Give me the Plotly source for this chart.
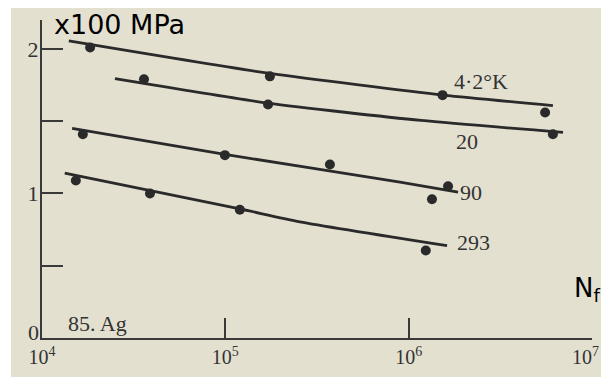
import numpy as np
import plotly.graph_objects as go

# ---- data ----
# cycles to failure N_f and stress (x100 MPa)
n_4k = [1.83e4, 1.75e5, 1.53e6, 5.55e6]
s_4k = [2.01, 1.81, 1.68, 1.56]
n_20k = [3.6e4, 1.71e5, 6.12e6]
s_20k = [1.79, 1.615, 1.41]
n_90k = [1.67e4, 9.95e4, 3.72e5, 1.64e6, 1.34e6]
s_90k = [1.41, 1.265, 1.20, 1.05, 0.96]
n_293k = [1.53e4, 3.88e4, 1.2e5, 1.24e6]
s_293k = [1.09, 1.0, 0.887, 0.605]

# hand-drawn fitted curves
fit_n_4k = [1.40e4, 1.75e5, 1.55e6, 6.12e6]
fit_s_4k = [2.055, 1.83, 1.68, 1.608]
fit_n_20k = [2.5e4, 1.71e5, 1.17e6, 6.95e6]
fit_s_20k = [1.794, 1.625, 1.505, 1.423]
fit_n_90k = [1.46e4, 9.95e4, 8.97e5, 1.86e6]
fit_s_90k = [1.45, 1.27, 1.079, 1.01]
fit_n_293k = [1.33e4, 1.2e5, 2.55e5, 1.62e6]
fit_s_293k = [1.141, 0.893, 0.804, 0.639]

series_labels = ["4·2°K", "20", "90", "293"]

x_tickvals = [1e4, 1e5, 1e6, 1e7]
x_ticktext = ["10<sup>4</sup>", "10<sup>5</sup>", "10<sup>6</sup>", ""]
last_x_label = "10<sup>7</sup>"
y_tickvals = [0, 0.5, 1, 1.5, 2]
y_ticktext = ["", "", "1", "", "2"]

INK = "#2a2a2a"
BEIGE = "#e4e0d0"
SERIF = "Liberation Serif"
TXT = "#333333"

fig = go.Figure()

fits = [(fit_n_4k, fit_s_4k), (fit_n_20k, fit_s_20k), (fit_n_90k, fit_s_90k), (fit_n_293k, fit_s_293k)]
pts = [(n_4k, s_4k), (n_20k, s_20k), (n_90k, s_90k), (n_293k, s_293k)]

for (fx, fy) in fits:
    fig.add_trace(go.Scatter(x=fx, y=fy, mode="lines", line=dict(color=INK, width=2.8, shape="spline", smoothing=0.6),
                             showlegend=False, hoverinfo="skip"))
for (px, py) in pts:
    fig.add_trace(go.Scatter(x=px, y=py, mode="markers", marker=dict(color=INK, size=10),
                             showlegend=False))

# label positions (N, stress)
label_pos = [(2.48e6, 1.773), (2.08e6, 1.361), (2.19e6, 1.01), (2.27e6, 0.66)]
for txt, (lx, ly) in zip(series_labels, label_pos):
    fig.add_annotation(x=np.log10(lx), y=ly, text=txt, showarrow=False,
                       font=dict(family=SERIF, size=22, color=TXT))
fig.add_annotation(x=np.log10(2.02e4), y=0.103, text="85. Ag", showarrow=False,
                   font=dict(family=SERIF, size=22, color=TXT))
# zero label of the stress axis sits just above the corner
fig.add_annotation(xref="paper", yref="paper", x=-0.002, y=0.017, xanchor="right", yanchor="middle",
                   text="0", showarrow=False, font=dict(family=SERIF, size=22, color=TXT))
# last decade label, kept inside the page edge
fig.add_annotation(xref="paper", yref="paper", x=1.0164, y=-0.012, xanchor="right", yanchor="top",
                   text=last_x_label, showarrow=False, font=dict(family=SERIF, size=20, color=TXT))

fig.add_annotation(xref="paper", yref="paper", x=0.018, y=0.9845, xanchor="left", yanchor="middle",
                   text="x100 MPa", showarrow=False, font=dict(family="DejaVu Sans", size=27, color="black"))
fig.add_annotation(xref="paper", yref="paper", x=0.9635, y=0.1515, xanchor="left", yanchor="middle",
                   text="N<sub>f</sub>", showarrow=False, font=dict(family="DejaVu Sans", size=26, color="black"))

# thin white scan margin on the left
fig.add_shape(type="rect", xref="paper", yref="paper", x0=-0.1, x1=-0.0564, y0=-0.3, y1=1.1,
              fillcolor="white", line=dict(width=0), layer="above")

fig.update_xaxes(type="log", range=[4, 7], tickvals=x_tickvals, ticktext=x_ticktext,
                 ticks="inside", ticklen=20, tickwidth=1.8, tickcolor="#3a3a3a",
                 showline=True, linecolor="#3a3a3a", linewidth=2, showgrid=False, zeroline=False,
                 tickfont=dict(family=SERIF, size=20, color=TXT), ticklabelstandoff=0)
fig.update_yaxes(range=[0, 2.2], tickvals=y_tickvals, ticktext=y_ticktext,
                 ticks="inside", ticklen=21, tickwidth=1.8, tickcolor="#3a3a3a",
                 showline=True, linecolor="#3a3a3a", linewidth=2, showgrid=False, zeroline=False,
                 tickfont=dict(family=SERIF, size=22, color=TXT), ticklabelstandoff=-3)

# the page body adds an 8px margin on every side, so the figure is sized to fit inside the window
fig.update_layout(width=593, height=369, margin=dict(l=34, r=9, t=12, b=37),
                  paper_bgcolor=BEIGE, plot_bgcolor=BEIGE, showlegend=False)

fig.write_html("out.html")
